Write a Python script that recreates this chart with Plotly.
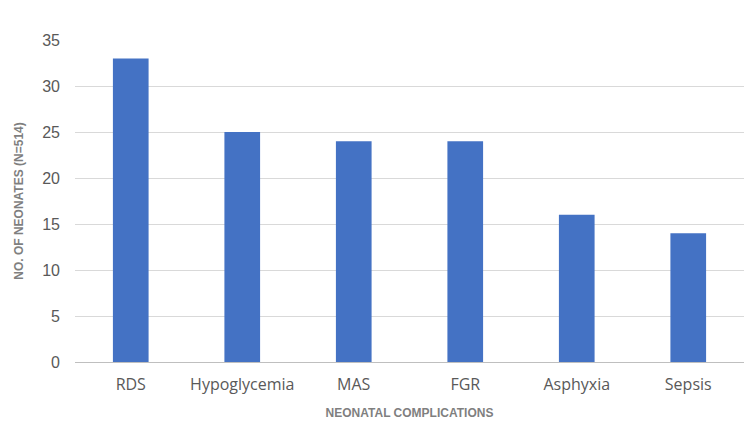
import plotly.graph_objects as go

categories = ["RDS", "Hypoglycemia", "MAS", "FGR", "Asphyxia", "Sepsis"]
values = [33, 25, 24, 24, 16, 14]
y_ticks = [0, 5, 10, 15, 20, 25, 30, 35]

fig = go.Figure(go.Bar(x=categories, y=values, marker_color="#4472C4", marker_line_width=0))

fig.update_layout(
    width=750, height=423,
    margin=dict(l=75, r=6, t=40, b=61),
    paper_bgcolor="white", plot_bgcolor="white",
    bargap=0.68,
    showlegend=False,
    font=dict(family="Liberation Sans, Arial", color="#595959"),
)
fig.update_xaxes(
    tickfont=dict(size=16, color="#595959", family="Open Sans, Liberation Sans"),
    ticks="", showline=True, linecolor="#BFBFBF", linewidth=1,
    ticklabelstandoff=8,
    title=dict(text="<b>NEONATAL COMPLICATIONS</b>", font=dict(size=12, color="#7F7F7F"), standoff=14),
)
fig.update_yaxes(
    range=[0, 35], tickvals=y_ticks, ticktext=[str(v) for v in y_ticks],
    tickfont=dict(size=16, color="#595959"),
    showgrid=True, gridcolor="#D9D9D9", gridwidth=1,
    zeroline=False, ticks="", ticklabelstandoff=14,
    title=dict(text="<b>NO. OF NEONATES (N=514)</b>", font=dict(size=12, color="#7F7F7F"), standoff=16),
)
fig.write_html("out.html")
